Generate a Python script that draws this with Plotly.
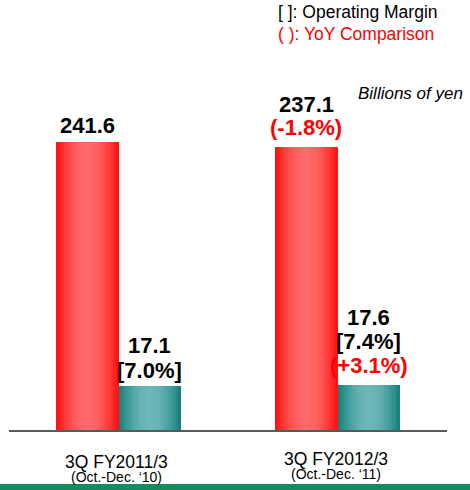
import math
import plotly.graph_objects as go

# ---------------- data ----------------
categories = ["3Q FY2011/3", "3Q FY2012/3"]
periods = ["(Oct.-Dec. \u201810)", "(Oct.-Dec. \u201811)"]
net_sales = [241.6, 237.1]            # billions of yen
operating_income = [17.1, 17.6]       # billions of yen
operating_margin = [7.0, 7.4]         # %
sales_yoy = [None, -1.8]              # %
income_yoy = [None, 3.1]              # %
unit_label = "Billions of yen"
legend_lines = ["[ ]: Operating Margin", "( ): YoY Comparison"]

# ---------------- style / layout ----------------
W, H = 470, 490
ML, MR, MT, MB = 9, 23, 10, 59.5
PW, PH = W - ML - MR, H - MT - MB
BASE = MT + PH                      # pixel y of the baseline
Y1_MAX = PH / 1.1954                # left (net sales) scale
Y2_MAX = PH / 2.573                 # right (operating income) scale
BW = 0.2854                         # bar width, category units
BW_PX = BW * PW / 2
FONT = "Liberation Sans, Arial, sans-serif"
RED_TXT = "#ff0000"
N_SLICES = 24

red_edge, red_mid = (255, 12, 12), (255, 106, 106)
teal_edge, teal_mid = (16, 124, 118), (108, 183, 183)


def shade(edge, mid, t):
    f = math.sin(math.pi * t) ** 0.9
    return "rgb(%d,%d,%d)" % tuple(round(e + (m - e) * f) for e, m in zip(edge, mid))


fig = go.Figure()


def gradient_bars(values, offset, edge, mid, axis):
    step = BW / N_SLICES
    for i in range(N_SLICES):
        t = (i + 0.5) / N_SLICES
        fig.add_trace(go.Bar(
            x=categories, y=values,
            offset=offset + i * step,
            width=min(2 * step, BW - i * step),
            marker=dict(color=shade(edge, mid, t), line=dict(width=0)),
            yaxis=axis, showlegend=False, hoverinfo="skip",
        ))


gradient_bars(net_sales, -BW, red_edge, red_mid, "y")
gradient_bars(operating_income, 0, teal_edge, teal_mid, "y2")


def paper_y(baseline_px, fs):
    bottom = baseline_px + 0.212 * fs + 1
    return (BASE - bottom) / PH


def paper_x(px):
    return (px - ML) / PW


annotations = []


def bar_labels(i, value, yref, xshift, lines):
    # lines: list of (text, color, is_yoy), from bottom to top
    b = 0
    for k, (txt, col, is_yoy) in enumerate(lines):
        if k == 0:
            b = 10.5 if is_yoy else 7
        annotations.append(dict(
            x=categories[i], y=value, xref="x", yref=yref,
            xshift=xshift, yanchor="bottom", xanchor="center",
            yshift=b - (0.212 * 22 + 1),
            text=txt, showarrow=False,
            font=dict(family=FONT, size=22, color=col, weight="bold"),
        ))
        b += 23.5 if is_yoy else 24.5


for i in range(len(categories)):
    red_lines = []
    if sales_yoy[i] is not None:
        red_lines.append(("(%.1f%%)" % sales_yoy[i], RED_TXT, True))
    red_lines.append(("%.1f" % net_sales[i], "#000000", False))
    bar_labels(i, net_sales[i], "y", -BW_PX / 2, red_lines)

    teal_lines = []
    if income_yoy[i] is not None:
        teal_lines.append(("(%+.1f%%)" % income_yoy[i], RED_TXT, True))
    teal_lines.append(("[%.1f%%]" % operating_margin[i], "#000000", False))
    teal_lines.append(("%.1f" % operating_income[i], "#000000", False))
    bar_labels(i, operating_income[i], "y2", BW_PX / 2, teal_lines)

# category labels (two lines)
cat_shift = [0, 3]
for i, (c, p) in enumerate(zip(categories, periods)):
    annotations.append(dict(
        x=c, xref="x", y=paper_y(470 - cat_shift[i], 17.5), yref="paper",
        xanchor="center", yanchor="bottom", xshift=-2, showarrow=False,
        text=c, font=dict(family=FONT, size=17.5, color="#000000"),
    ))
    annotations.append(dict(
        x=c, xref="x", y=paper_y(483.5 - cat_shift[i], 14), yref="paper",
        xanchor="center", yanchor="bottom", xshift=-2, showarrow=False,
        text=p, font=dict(family=FONT, size=14, color="#000000"),
    ))

# notes
annotations.append(dict(
    x=paper_x(276), y=paper_y(19.3, 17.5), xref="paper", yref="paper",
    xanchor="left", yanchor="bottom", showarrow=False, text=legend_lines[0],
    font=dict(family=FONT, size=17.5, color="#000000"),
))
annotations.append(dict(
    x=paper_x(276), y=paper_y(41.7, 17.5), xref="paper", yref="paper",
    xanchor="left", yanchor="bottom", showarrow=False, text=legend_lines[1],
    font=dict(family=FONT, size=17.5, color=RED_TXT),
))
annotations.append(dict(
    x=paper_x(356), y=paper_y(100.7, 17), xref="paper", yref="paper",
    xanchor="left", yanchor="bottom", showarrow=False, text=unit_label,
    font=dict(family=FONT, size=17, color="#000000", style="italic"),
))

fig.update_layout(
    width=W, height=H,
    margin=dict(l=ML, r=MR, t=MT, b=MB, pad=0),
    paper_bgcolor="#ffffff", plot_bgcolor="#ffffff",
    barmode="overlay", bargap=0,
    showlegend=False,
    xaxis=dict(type="category", categoryorder="array", categoryarray=categories,
               range=[-0.5, len(categories) - 0.5], showgrid=False, zeroline=False,
               showticklabels=False, ticks="", showline=True,
               linecolor="#595959", linewidth=2, fixedrange=True),
    yaxis=dict(range=[0, Y1_MAX], visible=False, showgrid=False, zeroline=False,
               fixedrange=True),
    yaxis2=dict(range=[0, Y2_MAX], overlaying="y", visible=False, showgrid=False,
                zeroline=False, fixedrange=True),
    annotations=annotations,
    shapes=[dict(type="rect", xref="paper", yref="paper",
                 x0=paper_x(-5), x1=paper_x(W + 5),
                 y0=(BASE - 495) / PH, y1=(BASE - 484.5) / PH,
                 fillcolor="#138c5f", line=dict(width=0), layer="above")],
)

fig.write_html(
    "out.html",
    config={"displayModeBar": False},
    post_script="document.body.style.margin='0';document.body.style.padding='0';"
                "document.body.style.overflow='hidden';",
)
